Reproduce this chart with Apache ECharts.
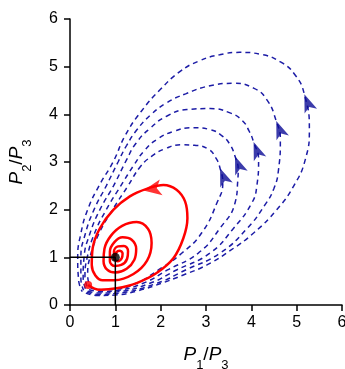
<!DOCTYPE html>
<html>
<head>
<meta charset="utf-8">
<script src="https://cdn.jsdelivr.net/npm/echarts@6/dist/echarts.min.js"></script>
<style>
  html, body { margin: 0; padding: 0; background: #fff; }
  #chart { width: 345px; height: 369px; }
</style>
</head>
<body>
<div id="chart"></div>
<script>
// axis ticks
var xTicks = [0, 1, 2, 3, 4, 5, 6];
var yTicks = [0, 1, 2, 3, 4, 5, 6];

// blue dashed trajectories (P1/P3, P2/P3)
var blue1 = [[0.45,0.36],[0.7,0.32],[1.0,0.33],[1.45,0.45],[1.95,0.735],[2.47,1.09],[2.91,1.52],[3.24,2.14],[3.37,2.56],[3.31,2.87],[3.22,3.08],[3.05,3.27],[2.75,3.35],[2.45,3.36],[2.10,3.28],[1.80,3.12],[1.55,2.90],[1.28,2.5],[0.94,2.0],[0.64,1.5],[0.44,1.0],[0.39,0.62],[0.43,0.42]];
var blue2 = [[0.42,0.32],[0.7,0.28],[1.0,0.30],[1.6,0.45],[2.15,0.735],[2.83,1.09],[3.30,1.6],[3.64,2.14],[3.70,2.6],[3.71,2.84],[3.64,3.12],[3.52,3.38],[3.34,3.56],[3.09,3.68],[2.72,3.72],[2.28,3.64],[1.91,3.47],[1.64,3.24],[1.42,2.95],[1.12,2.5],[0.80,2.0],[0.54,1.5],[0.38,1.0],[0.33,0.6],[0.38,0.38]];
var blue3 = [[0.39,0.29],[0.65,0.25],[1.0,0.27],[1.75,0.45],[2.35,0.735],[3.09,1.09],[3.60,1.6],[4.01,2.14],[4.12,2.49],[4.16,3.05],[4.05,3.42],[3.95,3.65],[3.80,3.87],[3.53,4.03],[3.09,4.12],[2.58,4.10],[2.13,3.96],[1.77,3.71],[1.46,3.40],[1.25,3.05],[0.96,2.5],[0.66,2.0],[0.44,1.5],[0.31,1.0],[0.29,0.58],[0.34,0.34]];
var blue4 = [[0.37,0.27],[0.62,0.22],[1.0,0.24],[1.9,0.45],[2.55,0.735],[3.31,1.09],[3.90,1.6],[4.30,2.10],[4.50,2.45],[4.60,2.84],[4.64,3.47],[4.55,3.86],[4.34,4.31],[4.05,4.55],[3.60,4.65],[3.09,4.60],[2.55,4.43],[2.13,4.24],[1.77,3.98],[1.48,3.68],[1.25,3.35],[1.06,3.0],[0.80,2.5],[0.53,2.0],[0.34,1.5],[0.24,1.0],[0.24,0.55],[0.30,0.31]];
var blue5 = [[0.35,0.25],[0.6,0.2],[1.0,0.21],[1.5,0.30],[2.0,0.45],[2.5,0.63],[3.02,0.84],[3.53,1.14],[4.05,1.51],[4.56,2.0],[4.93,2.49],[5.19,3.05],[5.28,3.70],[5.17,4.42],[4.97,4.82],[4.64,5.10],[4.20,5.26],[3.75,5.30],[3.30,5.25],[2.85,5.12],[2.43,4.90],[1.99,4.52],[1.57,4.06],[1.22,3.56],[0.95,3.0],[0.64,2.5],[0.39,2.0],[0.24,1.5],[0.17,1.0],[0.19,0.52],[0.27,0.28]];
var blueArrows = [[3.31,2.87],[3.64,3.12],[4.05,3.42],[4.55,3.86],[5.17,4.42]];

// red spiral into the fixed point
var redSpiral = [[0.40,0.42],[0.66,0.32],[1.03,0.35],[1.47,0.46],[1.91,0.67],[2.28,0.98],[2.50,1.40],[2.59,1.82],[2.54,2.17],[2.35,2.42],[2.06,2.52],[1.73,2.45],[1.32,2.28],[0.96,2.0],[0.66,1.61],[0.50,1.19],[0.48,0.84],[0.56,0.62],[0.72,0.52],[0.98,0.52],[1.40,0.65],[1.70,0.93],[1.80,1.30],[1.72,1.60],[1.47,1.74],[1.15,1.66],[0.90,1.45],[0.76,1.18],[0.74,0.92],[0.82,0.74],[1.0,0.68],[1.25,0.76],[1.42,0.95],[1.46,1.18],[1.36,1.37],[1.16,1.42],[0.98,1.32],[0.88,1.12],[0.88,0.92],[0.98,0.82],[1.13,0.84],[1.26,0.97],[1.28,1.13],[1.19,1.24],[1.06,1.23],[0.97,1.12],[0.97,0.98],[1.05,0.92],[1.14,0.98],[1.16,1.08],[1.09,1.14],[1.02,1.10],[1.0,1.02]];
var redArrow = [[1.62,2.40]];
var redStart = [[0.40,0.42]];

// fixed point and guide lines
var fixedPoint = [[1, 1]];
var guide = [[0, 1], [1, 1], [1, 0]];

var chart = echarts.init(document.getElementById('chart'));

var nameRich = {
  i: { fontFamily: 'Liberation Sans', fontStyle: 'italic', fontSize: 19, color: '#000', verticalAlign: 'top', lineHeight: 27 },
  n: { fontFamily: 'Liberation Sans', fontSize: 19, color: '#000', verticalAlign: 'top', lineHeight: 27 },
  s: { fontFamily: 'Liberation Sans', fontSize: 13, color: '#000', verticalAlign: 'bottom', lineHeight: 27 }
};

function blueLine(d) {
  return {
    type: 'line', data: d, smooth: 0.5, showSymbol: false, symbol: 'none', z: 2,
    lineStyle: { color: '#1c1ca6', width: 1.5, type: [5, 4] }
  };
}

var option = {
  animation: false,
  grid: { left: 70, right: 3, top: 19, bottom: 64, outerBoundsMode: 'none', containLabel: false },
  xAxis: {
    type: 'value', min: 0, max: 6, interval: 1,
    name: '{i|P}{s|1}{n|/}{i|P}{s|3}',
    nameLocation: 'middle', nameGap: 40,
    nameTextStyle: { rich: nameRich },
    splitLine: { show: false },
    axisLine: { lineStyle: { color: '#000', width: 1.5 } },
    axisTick: { length: 6, lineStyle: { color: '#000', width: 1.5 } },
    axisLabel: { color: '#000', fontSize: 16, fontFamily: 'Liberation Sans', margin: 10 }
  },
  yAxis: {
    type: 'value', min: 0, max: 6, interval: 1,
    name: '{i|P}{s|2}{n|/}{i|P}{s|3}',
    nameLocation: 'middle', nameGap: 36,
    nameTextStyle: { rich: nameRich },
    splitLine: { show: false },
    axisLine: { show: true, lineStyle: { color: '#000', width: 1.5 } },
    axisTick: { show: true, length: 6, lineStyle: { color: '#000', width: 1.5 } },
    axisLabel: { color: '#000', fontSize: 16, fontFamily: 'Liberation Sans', margin: 12 }
  },
  series: [
    blueLine(blue1), blueLine(blue2), blueLine(blue3), blueLine(blue4), blueLine(blue5),
    {
      type: 'scatter', data: blueArrows, symbol: 'arrow', symbolSize: [10, 18], symbolRotate: 21, z: 3,
      itemStyle: { color: '#0b0b96' }
    },
    {
      type: 'line', data: redSpiral, smooth: 0.4, showSymbol: false, symbol: 'none', z: 4,
      lineStyle: { color: '#ff0000', width: 2.5 }
    },
    {
      type: 'scatter', data: redArrow, symbol: 'arrow', symbolSize: [12, 18], symbolRotate: 100, z: 5,
      itemStyle: { color: '#ff0000' }
    },
    {
      type: 'scatter', data: redStart, symbol: 'circle', symbolSize: 8, z: 5,
      itemStyle: { color: '#ff0000' }
    },
    {
      type: 'line', data: guide, showSymbol: false, symbol: 'none', z: 6,
      lineStyle: { color: '#000', width: 1.5 }
    },
    {
      type: 'scatter', data: fixedPoint, symbol: 'circle', symbolSize: 9, z: 7,
      itemStyle: { color: '#000' }
    }
  ]
};

chart.setOption(option);
</script>
</body>
</html>
